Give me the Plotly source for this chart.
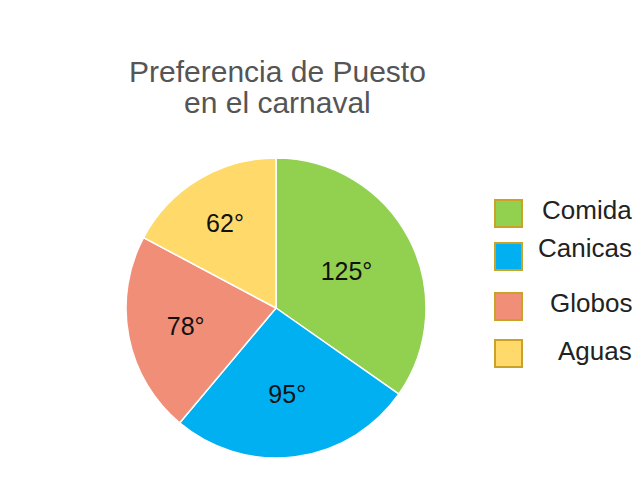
import plotly.graph_objects as go

labels = ["Comida", "Canicas", "Globos", "Aguas"]
degrees = [125, 95, 78, 62]
colors = ["#92D050", "#00B0F0", "#F08E78", "#FFDA6A"]
title_lines = ["Preferencia de Puesto", "en el carnaval"]

W, H = 637, 487
font_family = "Liberation Sans, Arial, sans-serif"


def px(x):
    return x / W


def py(y):
    return 1 - y / H


fig = go.Figure()
fig.add_trace(go.Pie(labels=labels,
                     values=degrees,
                     sort=False,
                     direction="clockwise",
                     rotation=0,
                     texttemplate="%{value}°",
                     textposition="inside",
                     insidetextorientation="horizontal",
                     textfont=dict(family=font_family, size=25, color="#111111"),
                     marker=dict(colors=colors, line=dict(color="white", width=1.5)),
                     domain=dict(x=[px(126), px(426)], y=[py(458), py(158)]),
                     showlegend=False,
                     hoverinfo="label+value"))

# title, one annotation per line (tighter spacing than plotly's <br>)
for line, yc in zip(title_lines, [72, 103]):
    fig.add_annotation(x=px(277), y=py(yc), xref="paper", yref="paper",
                       text=line, showarrow=False, xanchor="center", yanchor="middle",
                       height=29, borderpad=0,
                       font=dict(family=font_family, size=30, color="#555555"))

# legend: swatches with a golden border, drawn as shapes + text
swatch_tops = [200, 243, 293, 340]
label_y = [210, 248, 303, 351]
for name, col, top, ty in zip(labels, colors, swatch_tops, label_y):
    fig.add_shape(type="rect", xref="paper", yref="paper",
                  x0=px(495), x1=px(522), y0=py(top + 27), y1=py(top),
                  fillcolor=col, line=dict(color="#C9A227", width=2))
    fig.add_annotation(x=px(634), y=py(ty), xref="paper", yref="paper",
                       text=name, showarrow=False, xanchor="right", yanchor="middle",
                       font=dict(family=font_family, size=26, color="#222222"))

fig.update_layout(width=W, height=H,
                  margin=dict(l=0, r=0, t=0, b=0),
                  paper_bgcolor="white",
                  plot_bgcolor="white")

fig.write_html("out.html", config={"displayModeBar": False},
               post_script="document.body.style.margin='0';")
